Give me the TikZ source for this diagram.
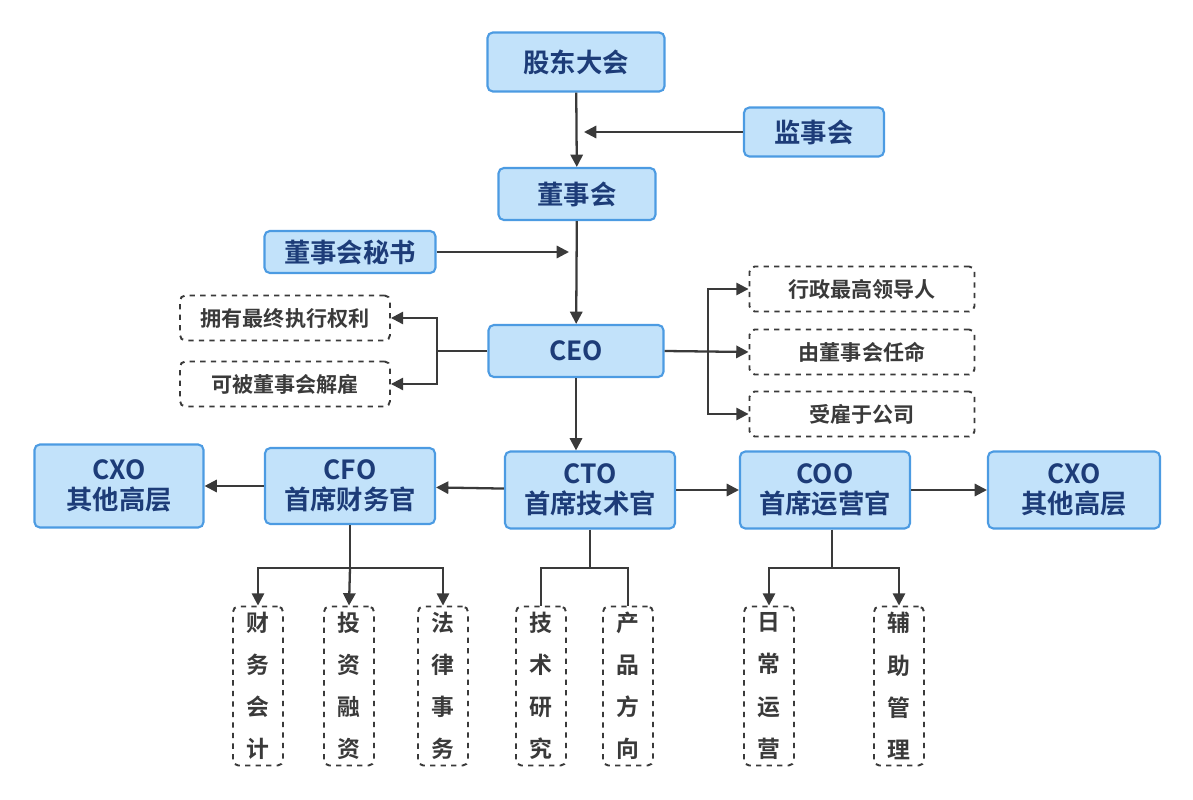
\documentclass[tikz,border=0pt]{standalone}
\usepackage{fontspec}
\setmainfont{Noto Sans CJK SC}[BoldFont={* Bold}]
\usetikzlibrary{arrows.meta}
\definecolor{bfill}{HTML}{C2E2FA}
\definecolor{bdraw}{HTML}{4C9BE2}
\definecolor{btext}{HTML}{1D3C78}
\definecolor{lcol}{HTML}{3A3A3A}
\begin{document}
\begin{tikzpicture}[x=0.02cm,y=-0.02cm,
 bbox/.style={draw=bdraw,fill=bfill,line width=1.2pt,rounded corners=3pt,text=btext,font=\bfseries\fontsize{15}{17}\selectfont,align=center,inner sep=0pt},
 dbox/.style={draw=lcol,dashed,line width=1.1pt,rounded corners=3pt,fill=white,text=lcol,font=\bfseries\fontsize{12}{14}\selectfont,inner sep=0pt,minimum width=4.2cm,minimum height=0.9cm},
 vbox/.style={draw=lcol,dashed,line width=1.1pt,rounded corners=3pt,fill=white,text=lcol,font=\bfseries\fontsize{13}{24}\selectfont,align=center,inner sep=0pt,minimum width=1cm,minimum height=3.18cm},
 ar/.style={-{Triangle[length=7pt,width=7pt]},line width=1.3pt,draw=lcol},
 pl/.style={line width=1.3pt,draw=lcol}]
\useasboundingbox (0,0) rectangle (1193,800);
\node[bbox,minimum width=3.54cm,minimum height=1.18cm] (gd) at (576,62) {股东大会};
\node[bbox,minimum width=2.8cm,minimum height=0.98cm] (js) at (814,132) {监事会};
\node[bbox,minimum width=3.14cm,minimum height=1.04cm] (ds) at (577,194) {董事会};
\node[bbox,minimum width=3.42cm,minimum height=0.84cm] (ms) at (350,252) {董事会秘书};
\node[bbox,minimum width=3.5cm,minimum height=1.04cm] (ceo) at (576,351) {CEO};
\node[dbox] (a1) at (285,318) {拥有最终执行权利};
\node[dbox] (a2) at (285,384) {可被董事会解雇};
\node[dbox,minimum width=4.5cm] (b1) at (862,289) {行政最高领导人};
\node[dbox,minimum width=4.5cm] (b2) at (862,352) {由董事会任命};
\node[dbox,minimum width=4.5cm] (b3) at (862,414) {受雇于公司};
\node[bbox,minimum width=3.38cm,minimum height=1.66cm] (cxl) at (119,486) {CXO\\其他高层};
\node[bbox,minimum width=3.4cm,minimum height=1.52cm] (cfo) at (350,486) {CFO\\首席财务官};
\node[bbox,minimum width=3.4cm,minimum height=1.54cm] (cto) at (590,490) {CTO\\首席技术官};
\node[bbox,minimum width=3.4cm,minimum height=1.54cm] (coo) at (825,490) {COO\\首席运营官};
\node[bbox,minimum width=3.44cm,minimum height=1.54cm] (cxr) at (1074,490) {CXO\\其他高层};
\node[vbox] (v1) at (258,686) {财\\务\\会\\计};
\node[vbox] (v2) at (349,686) {投\\资\\融\\资};
\node[vbox] (v3) at (443,686) {法\\律\\事\\务};
\node[vbox] (v4) at (541,686) {技\\术\\研\\究};
\node[vbox] (v5) at (628,686) {产\\品\\方\\向};
\node[vbox] (v6) at (769,686) {日\\常\\运\\营};
\node[vbox] (v7) at (899,686) {辅\\助\\管\\理};
\coordinate (p1) at (584,132);
\coordinate (p2) at (569,252);
\draw[ar] (gd) -- (ds);
\draw[ar] (js) -- (p1);
\draw[ar] (ds) -- (ceo);
\draw[ar] (ms) -- (p2);
\draw[ar] (ceo) -- (ceo|-cto.north);
\coordinate (lj) at (437,351);
\draw[pl] (ceo.west) -- (lj);
\draw[ar] (lj) |- (a1.east);
\draw[ar] (lj) |- (a2.east);
\coordinate (rj) at (708,351);
\draw[ar] (ceo.east) -- (b2.west);
\draw[ar] (rj) |- (b1.west);
\draw[ar] (rj) |- (b3.west);
\draw[ar] (cto) -- (cfo);
\draw[ar] (cfo) -- (cxl);
\draw[ar] (cto) -- (coo);
\draw[ar] (coo) -- (cxr);
\coordinate (c1) at (350,568);
\draw[pl] (cfo.south) -- (c1);
\draw[ar] (c1) -| (v1.north);
\draw[ar] (c1) -- (v2.north);
\draw[ar] (c1) -| (v3.north);
\coordinate (c2) at (590,568);
\draw[pl] (cto.south) -- (c2);
\draw[pl] (c2) -| (v4.north);
\draw[pl] (c2) -| (v5.north);
\coordinate (c3) at (832,568);
\draw[pl] (c3|-coo.south) -- (c3);
\draw[ar] (c3) -| (v6.north);
\draw[ar] (c3) -| (v7.north);
\end{tikzpicture}
\end{document}
